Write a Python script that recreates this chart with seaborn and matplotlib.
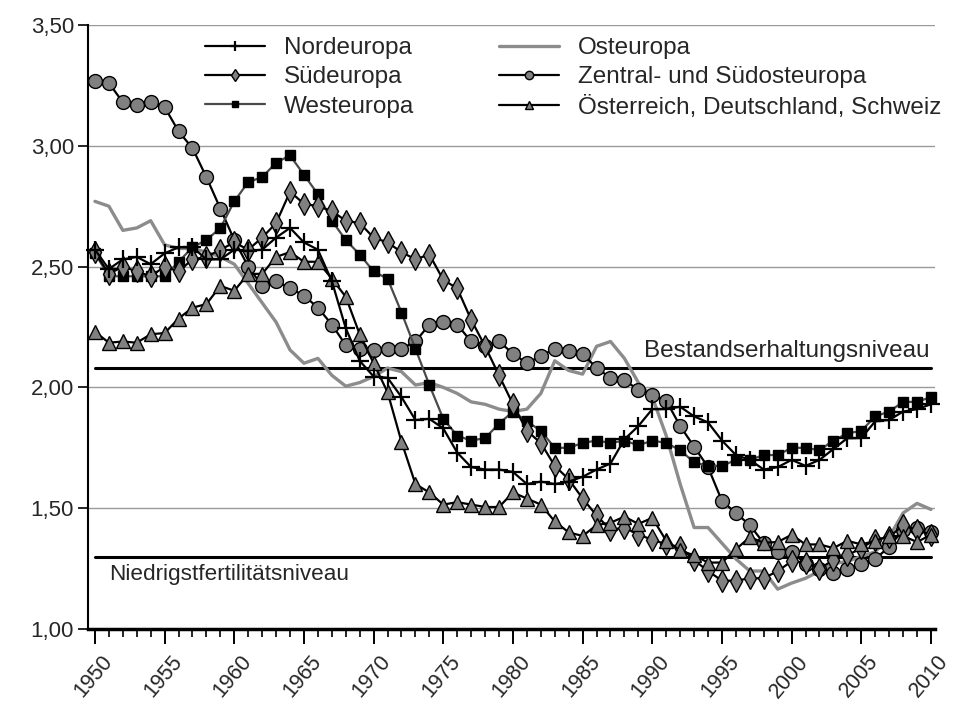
import numpy as np
import pandas as pd
import matplotlib
matplotlib.use("Agg")
import matplotlib.pyplot as plt
from matplotlib.transforms import ScaledTranslation
import seaborn as sns

years = list(range(1950, 2011))

nordeuropa = [2.57, 2.49, 2.53, 2.54, 2.51, 2.555, 2.58, 2.58, 2.53, 2.53,
              2.57, 2.565, 2.57, 2.62, 2.66, 2.60, 2.57, 2.44, 2.245, 2.11,
              2.045, 2.04, 1.96, 1.865, 1.87, 1.83, 1.73, 1.67, 1.66, 1.66,
              1.65, 1.60, 1.61, 1.60, 1.61, 1.63, 1.66, 1.685, 1.785, 1.84,
              1.91, 1.91, 1.92, 1.88, 1.855, 1.78, 1.72, 1.70, 1.66, 1.67,
              1.70, 1.675, 1.70, 1.745, 1.79, 1.79, 1.86, 1.865, 1.90, 1.91,
              1.93]
suedeuropa = [2.56, 2.47, 2.50, 2.48, 2.46, 2.50, 2.48, 2.53, 2.54, 2.57,
              2.60, 2.57, 2.62, 2.68, 2.81, 2.76, 2.75, 2.73, 2.69, 2.68,
              2.62, 2.60, 2.56, 2.53, 2.55, 2.445, 2.41, 2.28, 2.17, 2.05,
              1.93, 1.82, 1.77, 1.675, 1.62, 1.54, 1.47, 1.41, 1.42, 1.39,
              1.37, 1.35, 1.34, 1.285, 1.24, 1.20, 1.20, 1.21, 1.21, 1.24,
              1.28, 1.275, 1.25, 1.285, 1.305, 1.335, 1.37, 1.38, 1.43, 1.41,
              1.39]
westeuropa = [2.555, 2.46, 2.46, 2.46, 2.46, 2.46, 2.52, 2.58, 2.61, 2.66,
              2.77, 2.85, 2.87, 2.93, 2.96, 2.88, 2.80, 2.69, 2.61, 2.55,
              2.48, 2.45, 2.31, 2.16, 2.01, 1.87, 1.80, 1.78, 1.79, 1.85,
              1.90, 1.86, 1.82, 1.75, 1.75, 1.77, 1.78, 1.77, 1.78, 1.76,
              1.78, 1.77, 1.74, 1.69, 1.675, 1.675, 1.70, 1.70, 1.72, 1.72,
              1.75, 1.75, 1.74, 1.78, 1.81, 1.82, 1.88, 1.90, 1.94, 1.94,
              1.96]
osteuropa = [2.77, 2.75, 2.65, 2.66, 2.69, 2.59, 2.575, 2.575, 2.56, 2.54,
             2.51, 2.43, 2.35, 2.27, 2.155, 2.10, 2.12, 2.05, 2.005, 2.02,
             2.045, 2.08, 2.065, 2.01, 2.02, 2.00, 1.975, 1.94, 1.93, 1.91,
             1.90, 1.91, 1.975, 2.11, 2.07, 2.055, 2.17, 2.19, 2.12, 2.02,
             1.96, 1.80, 1.60, 1.42, 1.42, 1.355, 1.29, 1.24, 1.24, 1.165,
             1.19, 1.21, 1.24, 1.27, 1.28, 1.30, 1.32, 1.38, 1.48, 1.52,
             1.495]
zentral = [3.27, 3.26, 3.18, 3.17, 3.18, 3.16, 3.06, 2.99, 2.87, 2.74,
           2.61, 2.50, 2.42, 2.44, 2.41, 2.38, 2.33, 2.26, 2.175, 2.16,
           2.155, 2.16, 2.16, 2.19, 2.26, 2.27, 2.26, 2.19, 2.17, 2.19,
           2.14, 2.10, 2.13, 2.16, 2.15, 2.14, 2.08, 2.04, 2.03, 1.99,
           1.97, 1.945, 1.84, 1.755, 1.67, 1.53, 1.48, 1.43, 1.355, 1.32,
           1.32, 1.27, 1.25, 1.23, 1.25, 1.27, 1.29, 1.34, 1.41, 1.42,
           1.40]
oesterreich = [2.23, 2.185, 2.19, 2.185, 2.22, 2.225, 2.285, 2.33, 2.345, 2.42,
               2.40, 2.47, 2.47, 2.54, 2.56, 2.52, 2.52, 2.45, 2.375, 2.22,
               2.10, 1.98, 1.775, 1.60, 1.565, 1.515, 1.525, 1.515, 1.505, 1.505,
               1.565, 1.54, 1.515, 1.445, 1.40, 1.385, 1.43, 1.44, 1.465, 1.435,
               1.46, 1.365, 1.325, 1.305, 1.275, 1.275, 1.33, 1.38, 1.357, 1.36,
               1.39, 1.35, 1.35, 1.335, 1.365, 1.35, 1.365, 1.385, 1.385, 1.36,
               1.39]

labels = ["Nordeuropa", "Südeuropa", "Westeuropa", "Osteuropa",
          "Zentral- und Südosteuropa", "Österreich, Deutschland, Schweiz"]
bestand_level = 2.08
niedrig_level = 1.30
ytick_values = [1.0, 1.5, 2.0, 2.5, 3.0, 3.5]
xtick_values = list(range(1950, 2011, 5))

sns.set_style("white")
plt.rcParams["font.family"] = ["Liberation Sans", "DejaVu Sans"]

fig = plt.figure(figsize=(9.54, 7.07), dpi=100)
ax = fig.add_axes([88 / 954, 78 / 707, 847 / 954, 604 / 707])

GRAY = "#808080"
styles = {
    "Osteuropa": dict(color="#8c8c8c", lw=2.4, marker=None),
    "Zentral- und Südosteuropa": dict(color="black", lw=1.6, marker="o", ms=10,
                                      mfc=GRAY, mec="black", mew=1.0),
    "Westeuropa": dict(color="#4a4a4a", lw=1.6, marker="s", ms=7.5,
                       mfc="black", mec="black", mew=1.0),
    "Südeuropa": dict(color="black", lw=1.6, marker="d", ms=11,
                      mfc=GRAY, mec="black", mew=1.0),
    "Österreich, Deutschland, Schweiz": dict(color="black", lw=1.6, marker="^", ms=9.5,
                                             mfc=GRAY, mec="black", mew=1.0),
    "Nordeuropa": dict(color="black", lw=1.6, marker="+", ms=13,
                       mfc="black", mec="black", mew=1.6),
}
series = {
    "Nordeuropa": nordeuropa, "Südeuropa": suedeuropa, "Westeuropa": westeuropa,
    "Osteuropa": osteuropa, "Zentral- und Südosteuropa": zentral,
    "Österreich, Deutschland, Schweiz": oesterreich,
}

# grid
for yv in ytick_values[1:]:
    ax.axhline(yv, color="#9a9a9a", lw=1.0, zorder=0)

handles = {}
draw_order = ["Osteuropa", "Zentral- und Südosteuropa", "Westeuropa", "Südeuropa",
              "Österreich, Deutschland, Schweiz", "Nordeuropa"]
for i, name in enumerate(draw_order):
    st = styles[name]
    df = pd.DataFrame({"Jahr": years, "TFR": series[name]})
    kw = dict(color=st["color"], linewidth=st["lw"], zorder=3 + i, clip_on=False)
    if st["marker"]:
        kw.update(marker=st["marker"], markersize=st["ms"], markerfacecolor=st["mfc"],
                  markeredgecolor=st["mec"], markeredgewidth=st["mew"])
    sns.lineplot(data=df, x="Jahr", y="TFR", ax=ax, label=name, legend=False, **kw)
    handles[name] = ax.get_lines()[-1]

# reference lines
ax.plot([1950, 2010], [bestand_level] * 2, color="black", lw=2.2, zorder=2)
ax.plot([1950, 2010], [niedrig_level] * 2, color="black", lw=2.2, zorder=2)
ax.text(2009.9, bestand_level + 0.025, "Bestandserhaltungsniveau", ha="right", va="bottom",
        fontsize=17.5)
ax.text(1951.0, niedrig_level - 0.03, "Niedrigstfertilitätsniveau", ha="left", va="top",
        fontsize=16.2)

ax.set_xlim(1949.5, 2010.29)
ax.set_ylim(1.0, 3.5)
ax.set_yticks(ytick_values)
ax.set_yticklabels([f"{v:.2f}".replace(".", ",") for v in ytick_values], fontsize=16)
ax.set_xticks(xtick_values)
ax.set_xticks(years, minor=True)
ax.set_xticklabels([str(x) for x in xtick_values], fontsize=15.5, rotation=50,
                   ha="right", va="top", rotation_mode="anchor")
ax.tick_params(axis="x", which="major", length=11, width=1.4, direction="out",
               color="black", pad=5, bottom=True)
ax.tick_params(axis="x", which="minor", length=6, width=1.2, direction="out",
               color="black", bottom=True)
ax.tick_params(axis="y", which="major", length=7, width=1.2, direction="out",
               color="black", pad=3, left=True)
offset = ScaledTranslation(4 / 72, 0, fig.dpi_scale_trans)
for lab in ax.get_xticklabels():
    lab.set_transform(lab.get_transform() + offset)
ax.set_xlabel("")
ax.set_ylabel("")
for s in ["top", "right"]:
    ax.spines[s].set_visible(False)
ax.spines["left"].set_color("black")
ax.spines["left"].set_linewidth(1.5)
ax.spines["bottom"].set_color("black")
ax.spines["bottom"].set_linewidth(2.5)
ax.grid(False)

order = ["Nordeuropa", "Südeuropa", "Westeuropa", "Osteuropa",
         "Zentral- und Südosteuropa", "Österreich, Deutschland, Schweiz"]
leg = ax.legend([handles[n] for n in order], order, ncol=2, loc="upper left",
                bbox_to_anchor=(205 / 954, 1 - 37 / 707), bbox_transform=fig.transFigure,
                frameon=False, borderpad=0, borderaxespad=0, fontsize=17.5,
                handlelength=2.47, handletextpad=0.78, columnspacing=3.5,
                labelspacing=0.3, markerscale=0.6)

fig.savefig("out.png", dpi=100)
